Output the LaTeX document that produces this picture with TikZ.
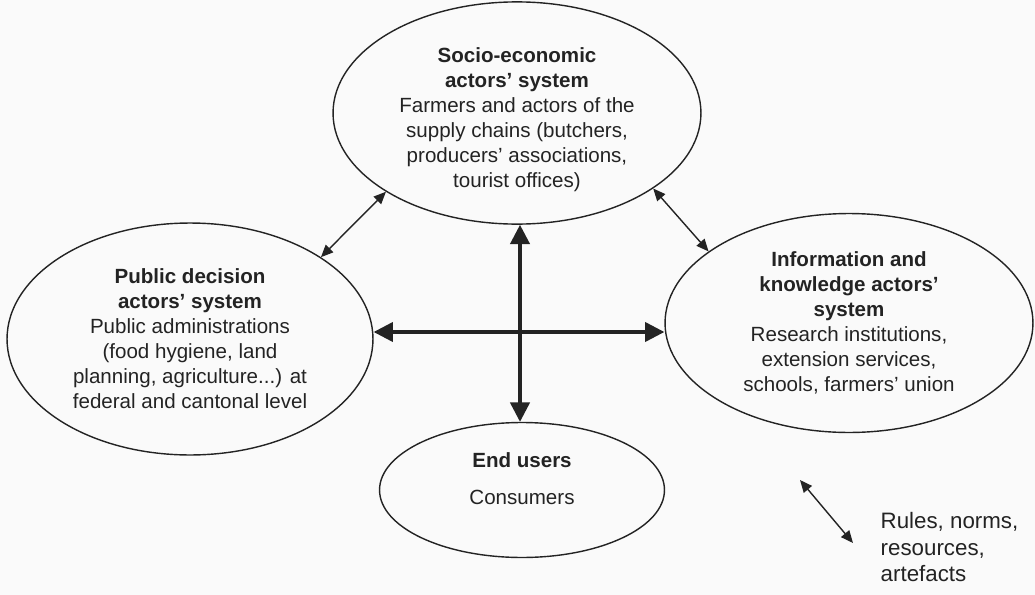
\documentclass[tikz,border=0pt]{standalone}
\usepackage{fontspec}
\setmainfont{Liberation Sans}
\usepackage{tikz}
\usetikzlibrary{shapes.geometric,arrows.meta}
\definecolor{ink}{RGB}{35,35,35}
\definecolor{paper}{RGB}{250,250,250}
\tikzstyle{every node}=[thick]
\tikzstyle{sys}=[draw=ink,ellipse,thick,inner sep=0pt,align=center,text=ink,font=\fontsize{11.7}{14.2}\selectfont]
\tikzstyle{flow}=[ink,thick,{Triangle[length=7pt,width=6pt]}-{Triangle[length=7pt,width=6pt]}]
\tikzstyle{mainflow}=[ink,line width=1.8pt,{Triangle[length=11pt,width=11pt]}-{Triangle[length=11pt,width=11pt]}]

\begin{document}
\begin{tikzpicture}[x=0.02cm,y=-0.02cm]
	\fill[paper] (0,0) rectangle (1035,595);
	\node(socio)[sys,minimum width=7.36cm,minimum height=4.28cm] at (517,113)
		{\rule{0pt}{16pt}\textbf{Socio-economic}\\\textbf{actors' system}\\Farmers and actors of the\\supply chains (butchers,\\producers' associations,\\tourist offices)};
	\node(pub)[sys,minimum width=7.32cm,minimum height=4.64cm] at (190,339)
		{\textbf{Public decision}\\\textbf{actors' system}\\Public administrations\\(food hygiene, land\\planning, agriculture...) at\\federal and cantonal level};
	\node(info)[sys,minimum width=7.36cm,minimum height=4.38cm] at (849,323)
		{\textbf{Information and}\\\textbf{knowledge actors'}\\\textbf{system}\\Research institutions,\\extension services,\\schools, farmers' union};
	\node(end)[sys,minimum width=5.7cm,minimum height=2.7cm] at (522,490)
		{\textbf{End users}\\[7pt]Consumers\\[-1pt]\mbox{}};
	\coordinate (mid) at (520,332);

	\path[mainflow] (pub.east |- mid) edge (info.west |- mid)
			(socio.south -| mid) edge (end.north -| mid);
	\path[flow]     (socio.211) edge (pub.32)
			(socio.331) edge (info.153);

	% legend
	\coordinate (lg1) at (800,480);
	\coordinate (lg2) at (853,543);
	\path[flow] (lg1) edge (lg2);
	\node(rules)[anchor=north west,inner sep=0pt,align=left,text=ink,font=\fontsize{12.7}{15}\selectfont] at (880,512)
		{Rules, norms,\\resources,\\artefacts};
\end{tikzpicture}
\end{document}
